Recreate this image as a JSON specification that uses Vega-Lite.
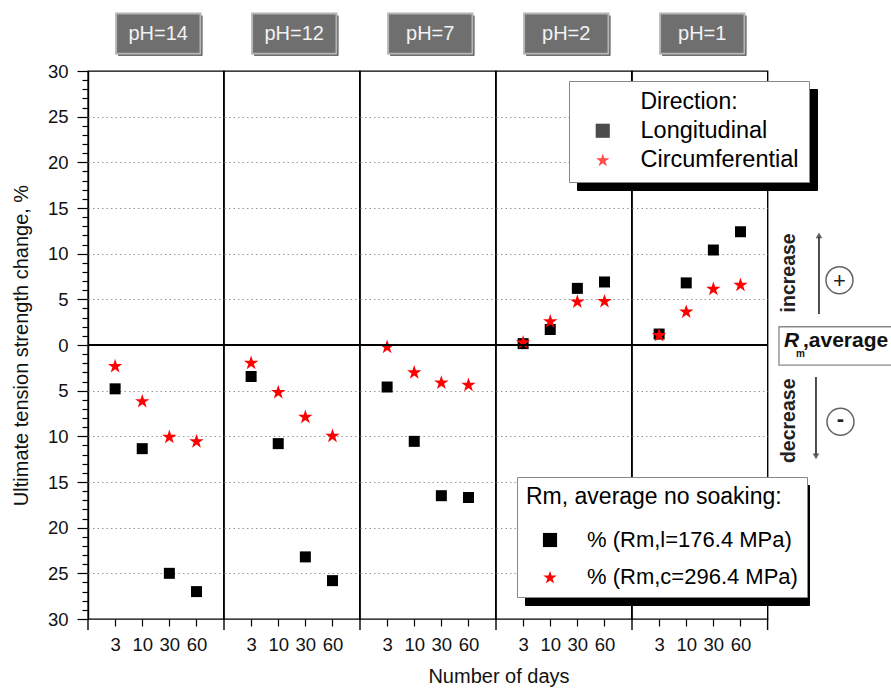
{
  "$schema": "https://vega.github.io/schema/vega-lite/v6.json",
  "autosize": {"type": "none"},
  "bounds": "flush",
  "padding": {"left": 88, "top": 71, "right": 803, "bottom": 620},
  "config": {
    "font": "Liberation Sans",
    "view": {"stroke": "black", "strokeWidth": 1.4},
    "legend": {"titleFont": "Liberation Sans", "labelFont": "Liberation Sans"}
  },
  "data": {
    "values": [
      {"pH": "pH=14", "days": "3", "direction": "Longitudinal", "reference": "% (Rm,l=176.4 MPa)", "change": -4.8},
      {"pH": "pH=14", "days": "10", "direction": "Longitudinal", "reference": "% (Rm,l=176.4 MPa)", "change": -11.35},
      {"pH": "pH=14", "days": "30", "direction": "Longitudinal", "reference": "% (Rm,l=176.4 MPa)", "change": -25.0},
      {"pH": "pH=14", "days": "60", "direction": "Longitudinal", "reference": "% (Rm,l=176.4 MPa)", "change": -27.0},
      {"pH": "pH=12", "days": "3", "direction": "Longitudinal", "reference": "% (Rm,l=176.4 MPa)", "change": -3.45},
      {"pH": "pH=12", "days": "10", "direction": "Longitudinal", "reference": "% (Rm,l=176.4 MPa)", "change": -10.8},
      {"pH": "pH=12", "days": "30", "direction": "Longitudinal", "reference": "% (Rm,l=176.4 MPa)", "change": -23.2},
      {"pH": "pH=12", "days": "60", "direction": "Longitudinal", "reference": "% (Rm,l=176.4 MPa)", "change": -25.8},
      {"pH": "pH=7", "days": "3", "direction": "Longitudinal", "reference": "% (Rm,l=176.4 MPa)", "change": -4.6},
      {"pH": "pH=7", "days": "10", "direction": "Longitudinal", "reference": "% (Rm,l=176.4 MPa)", "change": -10.55},
      {"pH": "pH=7", "days": "30", "direction": "Longitudinal", "reference": "% (Rm,l=176.4 MPa)", "change": -16.5},
      {"pH": "pH=7", "days": "60", "direction": "Longitudinal", "reference": "% (Rm,l=176.4 MPa)", "change": -16.7},
      {"pH": "pH=2", "days": "3", "direction": "Longitudinal", "reference": "% (Rm,l=176.4 MPa)", "change": 0.15},
      {"pH": "pH=2", "days": "10", "direction": "Longitudinal", "reference": "% (Rm,l=176.4 MPa)", "change": 1.7},
      {"pH": "pH=2", "days": "30", "direction": "Longitudinal", "reference": "% (Rm,l=176.4 MPa)", "change": 6.2},
      {"pH": "pH=2", "days": "60", "direction": "Longitudinal", "reference": "% (Rm,l=176.4 MPa)", "change": 6.9},
      {"pH": "pH=1", "days": "3", "direction": "Longitudinal", "reference": "% (Rm,l=176.4 MPa)", "change": 1.2},
      {"pH": "pH=1", "days": "10", "direction": "Longitudinal", "reference": "% (Rm,l=176.4 MPa)", "change": 6.8},
      {"pH": "pH=1", "days": "30", "direction": "Longitudinal", "reference": "% (Rm,l=176.4 MPa)", "change": 10.4},
      {"pH": "pH=1", "days": "60", "direction": "Longitudinal", "reference": "% (Rm,l=176.4 MPa)", "change": 12.4},
      {"pH": "pH=14", "days": "3", "direction": "Circumferential", "reference": "% (Rm,c=296.4 MPa)", "change": -2.25},
      {"pH": "pH=14", "days": "10", "direction": "Circumferential", "reference": "% (Rm,c=296.4 MPa)", "change": -6.1},
      {"pH": "pH=14", "days": "30", "direction": "Circumferential", "reference": "% (Rm,c=296.4 MPa)", "change": -10.0},
      {"pH": "pH=14", "days": "60", "direction": "Circumferential", "reference": "% (Rm,c=296.4 MPa)", "change": -10.5},
      {"pH": "pH=12", "days": "3", "direction": "Circumferential", "reference": "% (Rm,c=296.4 MPa)", "change": -1.9},
      {"pH": "pH=12", "days": "10", "direction": "Circumferential", "reference": "% (Rm,c=296.4 MPa)", "change": -5.1},
      {"pH": "pH=12", "days": "30", "direction": "Circumferential", "reference": "% (Rm,c=296.4 MPa)", "change": -7.8},
      {"pH": "pH=12", "days": "60", "direction": "Circumferential", "reference": "% (Rm,c=296.4 MPa)", "change": -9.9},
      {"pH": "pH=7", "days": "3", "direction": "Circumferential", "reference": "% (Rm,c=296.4 MPa)", "change": -0.15},
      {"pH": "pH=7", "days": "10", "direction": "Circumferential", "reference": "% (Rm,c=296.4 MPa)", "change": -2.95},
      {"pH": "pH=7", "days": "30", "direction": "Circumferential", "reference": "% (Rm,c=296.4 MPa)", "change": -4.05},
      {"pH": "pH=7", "days": "60", "direction": "Circumferential", "reference": "% (Rm,c=296.4 MPa)", "change": -4.3},
      {"pH": "pH=2", "days": "3", "direction": "Circumferential", "reference": "% (Rm,c=296.4 MPa)", "change": 0.35},
      {"pH": "pH=2", "days": "10", "direction": "Circumferential", "reference": "% (Rm,c=296.4 MPa)", "change": 2.65},
      {"pH": "pH=2", "days": "30", "direction": "Circumferential", "reference": "% (Rm,c=296.4 MPa)", "change": 4.8},
      {"pH": "pH=2", "days": "60", "direction": "Circumferential", "reference": "% (Rm,c=296.4 MPa)", "change": 4.85},
      {"pH": "pH=1", "days": "3", "direction": "Circumferential", "reference": "% (Rm,c=296.4 MPa)", "change": 1.15},
      {"pH": "pH=1", "days": "10", "direction": "Circumferential", "reference": "% (Rm,c=296.4 MPa)", "change": 3.7},
      {"pH": "pH=1", "days": "30", "direction": "Circumferential", "reference": "% (Rm,c=296.4 MPa)", "change": 6.2},
      {"pH": "pH=1", "days": "60", "direction": "Circumferential", "reference": "% (Rm,c=296.4 MPa)", "change": 6.65}
    ]
  },
  "spacing": 0,
  "facet": {
    "column": {
      "field": "pH",
      "type": "nominal",
      "sort": ["pH=14", "pH=12", "pH=7", "pH=2", "pH=1"],
      "title": "Number of days",
      "header": {"labels": false, "titleOrient": "bottom", "titleFontSize": 20, "titleFontWeight": "normal", "titleColor": "#111", "titlePadding": 3, "titleFont": "Liberation Sans"}
    }
  },
  "spec": {
    "width": 135.6,
    "height": 548,
    "layer": [
      {
        "mark": {"type": "point", "filled": true, "strokeWidth": 0},
        "encoding": {
          "x": {
            "field": "days", "type": "ordinal",
            "scale": {"type": "point", "domain": ["3", "10", "30", "60"], "padding": 1},
            "axis": {"title": null, "labelAngle": 0, "labelFontSize": 18.5, "labelColor": "#111", "labelPadding": 9, "tickSize": 7, "tickColor": "black", "tickWidth": 1.2, "domain": false, "grid": false}
          },
          "y": {
            "field": "change", "type": "quantitative",
            "scale": {"domain": [-30, 30], "nice": false, "zero": false},
            "axis": {
              "values": [-30,-29,-28,-27,-26,-25,-24,-23,-22,-21,-20,-19,-18,-17,-16,-15,-14,-13,-12,-11,-10,-9,-8,-7,-6,-5,-4,-3,-2,-1,0,1,2,3,4,5,6,7,8,9,10,11,12,13,14,15,16,17,18,19,20,21,22,23,24,25,26,27,28,29,30],
              "tickCount": 200,
              "title": "Ultimate tension strength change, %",
              "titleFontSize": 20, "titleFontWeight": "normal", "titleColor": "#111", "titlePadding": 16,
              "labelExpr": "datum.value % 5 === 0 ? format(abs(datum.value), 'd') : ''",
              "labelFontSize": 18.5, "labelColor": "#111", "labelPadding": 9, "labelOverlap": false, "labelFlush": false,
              "tickSize": {"condition": {"test": "datum.value % 5 === 0", "value": 11}, "value": 6},
              "tickColor": "black", "tickWidth": 1.2,
              "domainColor": "black", "domainWidth": 1.4,
              "grid": true, "gridColor": "#999", "gridDash": [1.5, 3], "gridWidth": 1.2,
              "gridOpacity": {"condition": {"test": "datum.value % 5 === 0 && abs(datum.value) < 30", "value": 1}, "value": 0}
            }
          },
          "color": {
            "field": "direction", "type": "nominal",
            "scale": {"domain": ["Longitudinal", "Circumferential"], "range": ["black", "#ff0000"]},
            "legend": {"title": "Direction:", "orient": "none", "legendX": 481, "legendY": 10, "titleAnchor": "middle", "titleFontSize": 23, "titleFontWeight": "normal", "titleColor": "black", "labelFontSize": 23.5, "labelColor": "black", "padding": 10, "symbolOffset": 12, "labelOffset": 26, "rowPadding": 4, "titlePadding": 5, "fillColor": "white", "strokeColor": "#888", "symbolSize": 200, "symbolStrokeWidth": 0, "labelExpr": "datum.label + '\u00a0\u00a0'", "labelLimit": 400, "zindex": 2}
          },
          "shape": {
            "field": "direction", "type": "nominal",
            "scale": {"domain": ["Longitudinal", "Circumferential"], "range": ["square", "M0,-0.9L0.2245,-0.209L0.951,-0.209L0.363,0.218L0.588,0.909L0,0.482L-0.588,0.909L-0.363,0.218L-0.951,-0.209L-0.2245,-0.209Z"]},
            "legend": {"title": "Direction:", "orient": "none", "legendX": 481, "legendY": 10, "titleAnchor": "middle", "titleFontSize": 23, "titleFontWeight": "normal", "titleColor": "black", "labelFontSize": 23.5, "labelColor": "black", "padding": 10, "symbolOffset": 12, "labelOffset": 26, "rowPadding": 4, "titlePadding": 5, "fillColor": "white", "strokeColor": "#888", "symbolSize": 200, "symbolStrokeWidth": 0, "labelExpr": "datum.label + '\u00a0\u00a0'", "labelLimit": 400, "zindex": 2}
          },
          "size": {
            "field": "direction", "type": "nominal",
            "scale": {"domain": ["Circumferential", "Longitudinal"], "range": [230, 121]},
            "legend": {"title": "Direction:", "orient": "none", "legendX": 489, "legendY": 18, "titleAnchor": "middle", "titleFontSize": 23, "titleFontWeight": "normal", "titleColor": "black", "labelFontSize": 23.5, "labelColor": "black", "padding": 10, "symbolOffset": 12, "labelOffset": 26, "rowPadding": 4, "titlePadding": 5, "fillColor": "black", "strokeColor": "black", "symbolOpacity": 0, "labelExpr": "datum.label + '\u00a0\u00a0'", "labelLimit": 400, "zindex": 0}
          },
          "opacity": {
            "field": "reference", "type": "nominal",
            "scale": {"domain": ["% (Rm,l=176.4 MPa)", "% (Rm,c=296.4 MPa)"], "range": [1, 1]},
            "legend": {"title": "Rm, average no soaking:", "orient": "none", "legendX": 429, "legendY": 406, "titleFontSize": 23, "titleFontWeight": "normal", "titleColor": "black", "titleLimit": 400, "labelFontSize": 22, "labelColor": "black", "padding": 9, "symbolOffset": 13, "labelOffset": 26, "rowPadding": 15, "titlePadding": 20, "fillColor": "white", "strokeColor": "#888", "symbolSize": 200, "symbolOpacity": 1, "symbolStrokeWidth": 0, "labelLimit": 400, "zindex": 2,
              "symbolType": {"expr": "indexof(datum.value, '176') >= 0 ? 'square' : 'M0,-0.9L0.2245,-0.209L0.951,-0.209L0.363,0.218L0.588,0.909L0,0.482L-0.588,0.909L-0.363,0.218L-0.951,-0.209L-0.2245,-0.209Z'"},
              "symbolFillColor": {"expr": "indexof(datum.value, '176') >= 0 ? 'black' : '#ff0000'"}
            }
          },
          "strokeWidth": {
            "field": "reference", "type": "ordinal",
            "scale": {"type": "point", "domain": ["% (Rm,c=296.4 MPa)", "% (Rm,l=176.4 MPa)"], "range": [0, 0]},
            "legend": {"title": "Rm, average no soaking:", "orient": "none", "legendX": 437, "legendY": 414, "titleFontSize": 23, "titleFontWeight": "normal", "titleColor": "black", "titleLimit": 400, "labelFontSize": 22, "labelColor": "black", "padding": 9, "symbolOffset": 13, "labelOffset": 26, "rowPadding": 15, "titlePadding": 57, "fillColor": "black", "strokeColor": "black", "symbolSize": 200, "symbolOpacity": 0, "labelLimit": 400, "zindex": 0}
          }
        }
      },
      {
        "mark": {"type": "rule", "color": "black", "strokeWidth": 1.4},
        "encoding": {"y": {"datum": 0}}
      },
      {
        "transform": [{"filter": "datum.days === '3' && datum.direction === 'Longitudinal'"}],
        "mark": {"type": "rule", "color": "black", "strokeWidth": 1.4, "xOffset": -27.12},
        "encoding": {"x": {"datum": "3", "type": "ordinal"}, "y": {"datum": -30}, "y2": {"datum": -31.2}}
      },
      {
        "transform": [{"filter": "datum.pH === 'pH=1' && datum.days === '60' && datum.direction === 'Longitudinal'"}],
        "mark": {"type": "rule", "color": "black", "strokeWidth": 1.4, "xOffset": 27.12},
        "encoding": {"x": {"datum": "60", "type": "ordinal"}, "y": {"datum": -30}, "y2": {"datum": -31.2}}
      },
      {
        "transform": [{"filter": "datum.days === '3' && datum.direction === 'Longitudinal'"}],
        "mark": {"type": "rect", "fill": "#3e3e3e", "xOffset": 3, "x2Offset": 6, "yOffset": 2, "y2Offset": 2},
        "encoding": {
          "x": {"datum": "3", "type": "ordinal"},
          "x2": {"datum": "60"},
          "y": {"datum": 36.3},
          "y2": {"datum": 31.9}
        }
      },
      {
        "transform": [{"filter": "datum.days === '3' && datum.direction === 'Longitudinal'"}],
        "mark": {"type": "rect", "fill": "#6f6f6f", "stroke": "#b4b4b4", "strokeWidth": 2, "xOffset": 1, "x2Offset": 4},
        "encoding": {
          "x": {"datum": "3", "type": "ordinal"},
          "x2": {"datum": "60"},
          "y": {"datum": 36.3},
          "y2": {"datum": 31.9}
        }
      },
      {
        "transform": [{"filter": "datum.days === '3' && datum.direction === 'Longitudinal'"}],
        "mark": {"type": "text", "fontSize": 20, "color": "#f2f2f2", "align": "center", "baseline": "middle", "xOffset": 16},
        "encoding": {
          "x": {"datum": "10", "type": "ordinal"},
          "y": {"datum": 34.1},
          "text": {"field": "pH"}
        }
      },
      {
        "transform": [{"filter": "datum.pH === 'pH=1' && datum.days === '60' && datum.direction === 'Longitudinal'"}],
        "layer": [
          {
            "mark": {"type": "text", "text": "increase", "angle": 270, "fontSize": 19.5, "fontWeight": "bold", "color": "#222", "align": "center", "baseline": "middle", "xOffset": 48.5},
            "encoding": {"x": {"datum": "60", "type": "ordinal"}, "y": {"datum": 7.9}}
          },
          {
            "mark": {"type": "text", "text": "decrease", "angle": 270, "fontSize": 19.5, "fontWeight": "bold", "color": "#222", "align": "center", "baseline": "middle", "xOffset": 48.5},
            "encoding": {"x": {"datum": "60", "type": "ordinal"}, "y": {"datum": -8.3}}
          },
          {
            "mark": {"type": "rule", "color": "#222", "strokeWidth": 1.6, "xOffset": 78.5},
            "encoding": {"x": {"datum": "60", "type": "ordinal"}, "y": {"datum": 3.4}, "y2": {"datum": 11.8}}
          },
          {
            "mark": {"type": "point", "shape": "triangle-up", "filled": true, "color": "#222", "size": 45, "xOffset": 78.5},
            "encoding": {"x": {"datum": "60", "type": "ordinal"}, "y": {"datum": 12.0}}
          },
          {
            "mark": {"type": "rule", "color": "#222", "strokeWidth": 1.6, "xOffset": 75.5},
            "encoding": {"x": {"datum": "60", "type": "ordinal"}, "y": {"datum": -3.5}, "y2": {"datum": -12.0}}
          },
          {
            "mark": {"type": "point", "shape": "triangle-down", "filled": true, "color": "#222", "size": 45, "xOffset": 75.5},
            "encoding": {"x": {"datum": "60", "type": "ordinal"}, "y": {"datum": -12.2}}
          },
          {
            "mark": {"type": "point", "shape": "circle", "filled": false, "color": "#222", "strokeWidth": 1.5, "size": 729, "xOffset": 99},
            "encoding": {"x": {"datum": "60", "type": "ordinal"}, "y": {"datum": 7.1}}
          },
          {
            "mark": {"type": "text", "text": "+", "fontSize": 22, "color": "#222", "align": "center", "baseline": "middle", "xOffset": 99, "dy": 1},
            "encoding": {"x": {"datum": "60", "type": "ordinal"}, "y": {"datum": 7.1}}
          },
          {
            "mark": {"type": "point", "shape": "circle", "filled": false, "color": "#222", "strokeWidth": 1.5, "size": 729, "xOffset": 100},
            "encoding": {"x": {"datum": "60", "type": "ordinal"}, "y": {"datum": -8.4}}
          },
          {
            "mark": {"type": "text", "text": "-", "fontSize": 22, "fontWeight": "bold", "color": "#222", "align": "center", "baseline": "middle", "xOffset": 100, "dy": -3},
            "encoding": {"x": {"datum": "60", "type": "ordinal"}, "y": {"datum": -8.4}}
          },
          {
            "mark": {"type": "rect", "fill": "white", "stroke": "#888", "strokeWidth": 1.3, "xOffset": 38.5, "x2Offset": 170},
            "encoding": {"x": {"datum": "60", "type": "ordinal"}, "x2": {"datum": "60"}, "y": {"datum": 2.0}, "y2": {"datum": -2.2}}
          },
          {
            "mark": {"type": "text", "text": "R", "fontSize": 21, "fontWeight": "bold", "fontStyle": "italic", "color": "#111", "align": "left", "baseline": "alphabetic", "xOffset": 43.5},
            "encoding": {"x": {"datum": "60", "type": "ordinal"}, "y": {"datum": -0.2}}
          },
          {
            "mark": {"type": "text", "text": "m", "fontSize": 10, "fontWeight": "bold", "color": "#111", "align": "left", "baseline": "alphabetic", "xOffset": 55.5},
            "encoding": {"x": {"datum": "60", "type": "ordinal"}, "y": {"datum": -1.3}}
          },
          {
            "mark": {"type": "text", "text": ",average", "fontSize": 21, "fontWeight": "bold", "color": "#111", "align": "left", "baseline": "alphabetic", "xOffset": 62.5},
            "encoding": {"x": {"datum": "60", "type": "ordinal"}, "y": {"datum": -0.2}}
          }
        ]
      }
    ]
  }
}
